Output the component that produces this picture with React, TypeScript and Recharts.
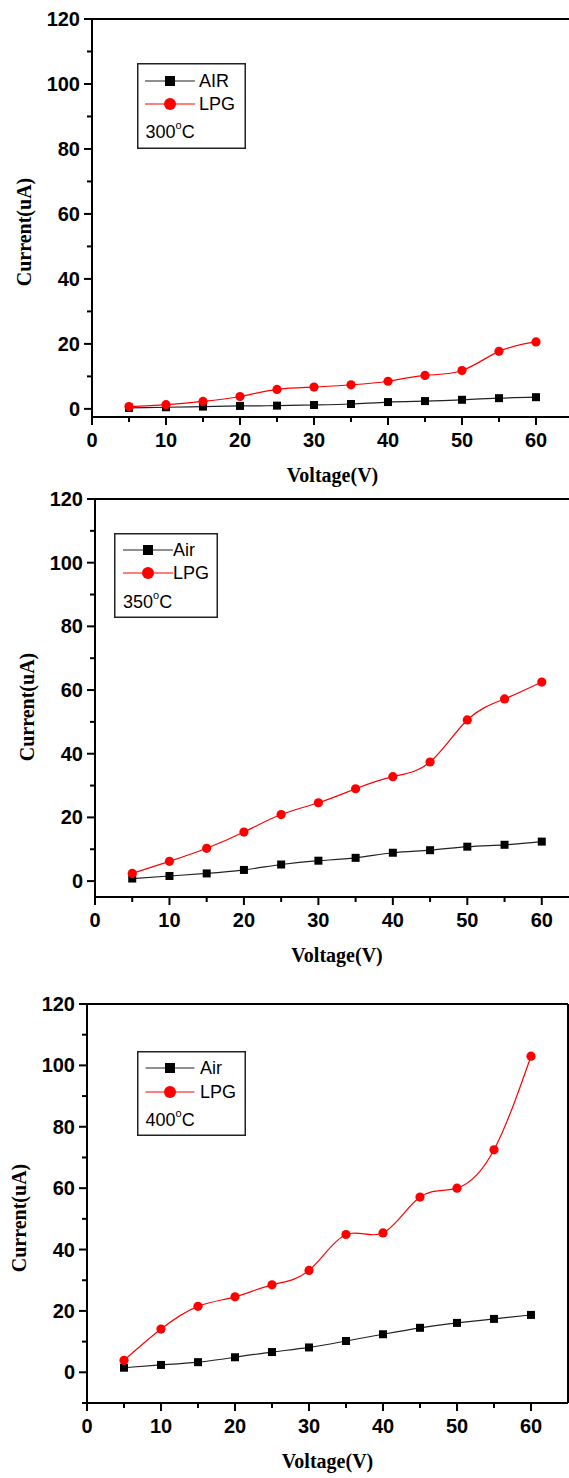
import { LineChart, Line, XAxis, YAxis, ReferenceLine, Legend } from "recharts";

const VOLTAGE = [5, 10, 15, 20, 25, 30, 35, 40, 45, 50, 55, 60];
const AIR_300 = [0.3, 0.5, 0.7, 0.9, 1.0, 1.2, 1.5, 2.1, 2.4, 2.8, 3.3, 3.6];
const LPG_300 = [0.7, 1.3, 2.3, 3.8, 6.0, 6.7, 7.4, 8.5, 10.3, 11.8, 17.7, 20.6];
const AIR_350 = [0.8, 1.6, 2.4, 3.5, 5.2, 6.4, 7.3, 8.9, 9.7, 10.8, 11.4, 12.4];
const LPG_350 = [2.4, 6.2, 10.3, 15.4, 20.9, 24.6, 29.0, 32.8, 37.4, 50.6, 57.2, 62.5];
const AIR_400 = [1.5, 2.4, 3.3, 4.9, 6.6, 8.1, 10.2, 12.4, 14.5, 16.1, 17.4, 18.7];
const LPG_400 = [3.9, 14.1, 21.5, 24.6, 28.5, 33.2, 44.9, 45.4, 57.1, 60.0, 72.5, 103.0];

const X_TICKS = [0, 5, 10, 15, 20, 25, 30, 35, 40, 45, 50, 55, 60];
const Y_TICKS = [0, 10, 20, 30, 40, 50, 60, 70, 80, 90, 100, 110, 120];
const Y_TICKS_400 = [-10, ...Y_TICKS];

const sans = "'Liberation Sans', Arial, sans-serif";
const serif = "'Liberation Serif', 'Times New Roman', serif";

type LegendPos = {
  left: number; top: number; w: number; h: number;
  x1: number; x2: number; tx: number; r1: number; r2: number; tl: number; tr: number;
};

type PanelCfg = {
  top: number; height: number;
  plotLeft: number; plotTop: number; plotRight: number; plotBottom: number;
  yMin: number; yTicks: number[];
  air: number[]; lpg: number[];
  airName: string; temp: string;
  legend: LegendPos; yTitleY: number;
};

// legend positions are given in page coordinates
const PANELS: PanelCfg[] = [
  {
    top: 0, height: 490, plotLeft: 92, plotTop: 19, plotRight: 573, plotBottom: 417,
    yMin: -2.5, yTicks: Y_TICKS, air: AIR_300, lpg: LPG_300, airName: "AIR", temp: "300",
    legend: { left: 137, top: 63, w: 109, h: 86, x1: 8, x2: 58, tx: 62, r1: 18, r2: 41, tl: 8.5, tr: 69 },
    yTitleY: 232,
  },
  {
    top: 470, height: 510, plotLeft: 95, plotTop: 499, plotRight: 579, plotBottom: 897,
    yMin: -5, yTicks: Y_TICKS, air: AIR_350, lpg: LPG_350, airName: "Air", temp: "350",
    legend: { left: 114, top: 533, w: 104, h: 85, x1: 9, x2: 59, tx: 59, r1: 17, r2: 40, tl: 9, tr: 68.5 },
    yTitleY: 707,
  },
  {
    top: 960, height: 518, plotLeft: 87, plotTop: 1004, plotRight: 568, plotBottom: 1403,
    yMin: -10, yTicks: Y_TICKS_400, air: AIR_400, lpg: LPG_400, airName: "Air", temp: "400",
    legend: { left: 137, top: 1051, w: 109, h: 85, x1: 8.5, x2: 57.5, tx: 63, r1: 17, r2: 41, tl: 8.5, tr: 69 },
    yTitleY: 1218,
  },
];

const XTick = (props: any) => {
  const { x, y, payload } = props;
  const v = payload.value;
  const major = v % 10 === 0;
  return (
    <g>
      <line x1={x} x2={x} y1={y} y2={y + (major ? 8 : 5)} stroke="#000" strokeWidth={2} />
      {major && (
        <text x={x} y={y + 23} textAnchor="middle" dominantBaseline="central"
          fontFamily={sans} fontWeight="bold" fontSize={20} fill="#000">{v}</text>
      )}
    </g>
  );
};

const YTick = (props: any) => {
  const { x, y, payload } = props;
  const v = payload.value;
  const major = v % 20 === 0;
  return (
    <g>
      <line x1={x - (major ? 8 : 5)} x2={x} y1={y} y2={y} stroke="#000" strokeWidth={2} />
      {major && (
        <text x={x - 12} y={y} textAnchor="end" dominantBaseline="central"
          fontFamily={sans} fontWeight="bold" fontSize={20} fill="#000">{v}</text>
      )}
    </g>
  );
};

const Square = (props: any) => {
  const { cx, cy, index } = props;
  return <rect key={index} x={cx - 4} y={cy - 4} width={8} height={8} fill="#000" />;
};

function LegendBox({ cfg }: { cfg: PanelCfg }) {
  const L = cfg.legend;
  const mid = (L.x1 + L.x2) / 2;
  return (
    <svg width={L.w} height={L.h} style={{ display: "block" }}>
      <rect x={0.75} y={0.75} width={L.w - 1.5} height={L.h - 1.5} fill="#fff" stroke="#222" strokeWidth={1.5} />
      <line x1={L.x1} x2={L.x2} y1={L.r1} y2={L.r1} stroke="#222" strokeWidth={1.2} />
      <rect x={mid - 5} y={L.r1 - 5} width={10} height={10} fill="#000" />
      <line x1={L.x1} x2={L.x2} y1={L.r2} y2={L.r2} stroke="#ff0000" strokeWidth={1.2} />
      <circle cx={mid} cy={L.r2} r={6} fill="#ff0000" />
      <g fontFamily={sans} fontSize={18} fill="#000">
        <text x={L.tx} y={L.r1} dominantBaseline="central">{cfg.airName}</text>
        <text x={L.tx} y={L.r2} dominantBaseline="central">LPG</text>
        <text x={L.tl} y={L.tr} dominantBaseline="central">
          {cfg.temp}
          <tspan dy={-7} fontSize={11}>o</tspan>
          <tspan dy={7}>C</tspan>
        </text>
      </g>
    </svg>
  );
}

function Panel({ cfg }: { cfg: PanelCfg }) {
  const width = 600;
  const yAxisW = 70;
  const xAxisH = 60;
  const data = VOLTAGE.map((v, i) => ({ v, air: cfg.air[i], lpg: cfg.lpg[i] }));
  const relTop = cfg.plotTop - cfg.top;
  const relBottom = cfg.plotBottom - cfg.top;
  const xTitleX = (cfg.plotLeft + cfg.plotRight) / 2;
  const yTitleX = cfg.plotLeft - 68;
  const yTitleY = cfg.yTitleY - cfg.top;
  return (
    <div style={{ position: "absolute", left: 0, top: cfg.top }}>
      <LineChart
        width={width}
        height={cfg.height}
        data={data}
        margin={{
          left: cfg.plotLeft - yAxisW,
          top: relTop,
          right: width - cfg.plotRight,
          bottom: cfg.height - relBottom - xAxisH,
        }}
      >
        <XAxis
          dataKey="v"
          type="number"
          domain={[0, 65]}
          ticks={X_TICKS}
          interval={0}
          height={xAxisH}
          tickSize={0}
          tickMargin={0}
          tickLine={false}
          axisLine={{ stroke: "#000", strokeWidth: 2 }}
          tick={<XTick />}
          allowDataOverflow
          label={{
            content: () => (
              <text x={xTitleX} y={relBottom + 58} textAnchor="middle" dominantBaseline="central"
                fontFamily={serif} fontWeight="bold" fontSize={20} fill="#000">Voltage(V)</text>
            ),
          }}
        />
        <YAxis
          type="number"
          domain={[cfg.yMin, 120]}
          ticks={cfg.yTicks}
          interval={0}
          width={yAxisW}
          tickSize={0}
          tickMargin={0}
          tickLine={false}
          axisLine={{ stroke: "#000", strokeWidth: 2 }}
          tick={<YTick />}
          allowDataOverflow
          label={{
            content: () => (
              <text x={yTitleX} y={yTitleY} textAnchor="middle" dominantBaseline="central"
                transform={`rotate(-90 ${yTitleX} ${yTitleY})`}
                fontFamily={serif} fontWeight="bold" fontSize={20} fill="#000">Current(uA)</text>
            ),
          }}
        />
        <ReferenceLine y={120} stroke="#000" strokeWidth={2} />
        <ReferenceLine x={65} stroke="#000" strokeWidth={2} />
        <Legend
          layout="vertical"
          align="center"
          verticalAlign="middle"
          content={() => <LegendBox cfg={cfg} />}
          wrapperStyle={{
            left: cfg.legend.left,
            top: cfg.legend.top - cfg.top,
            width: cfg.legend.w,
            height: cfg.legend.h,
          }}
        />
        <Line
          dataKey="air"
          name={cfg.airName}
          type="natural"
          stroke="#222"
          strokeWidth={1.2}
          dot={<Square />}
          activeDot={false}
          isAnimationActive={false}
        />
        <Line
          dataKey="lpg"
          name="LPG"
          type="natural"
          stroke="#ff0000"
          strokeWidth={1.2}
          dot={{ r: 4.6, fill: "#ff0000", stroke: "#ff0000", strokeWidth: 0 }}
          activeDot={false}
          isAnimationActive={false}
        />
      </LineChart>
    </div>
  );
}

export default function App() {
  return (
    <div style={{ position: "absolute", left: 0, top: 0, width: 569, height: 1478, overflow: "hidden", background: "#fff" }}>
      {PANELS.map((p) => (
        <Panel key={p.temp} cfg={p} />
      ))}
    </div>
  );
}
